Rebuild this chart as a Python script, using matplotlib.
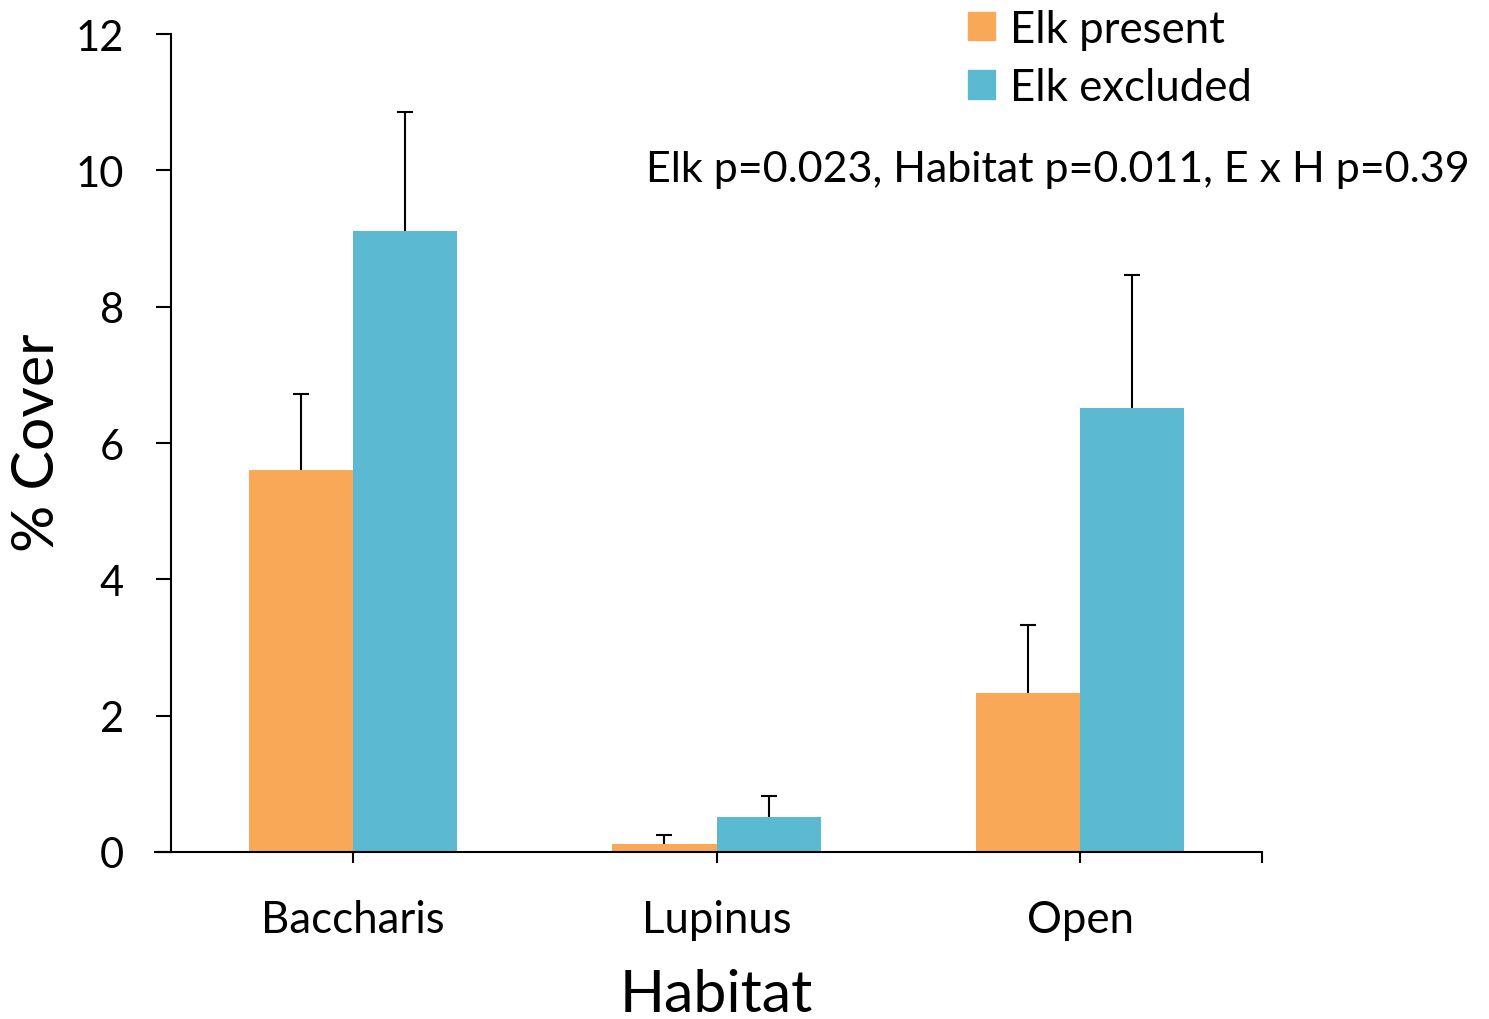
import matplotlib.pyplot as plt
import numpy as np
from matplotlib.lines import Line2D
from matplotlib.patches import Patch

plt.rcParams['font.family'] = ['Lato', 'DejaVu Sans']

# % cover por habitat, con y sin alces
habitats = ['Baccharis', 'Lupinus', 'Open']
elk_present = [5.60, 0.12, 2.33]
elk_present_se = [1.12, 0.13, 1.00]
elk_excluded = [9.11, 0.51, 6.51]
elk_excluded_se = [1.75, 0.31, 1.95]

color_present = '#F9A857'
color_excluded = '#5BB9D2'

fig = plt.figure(figsize=(14.89, 10.20), dpi=100)
ax = fig.add_axes([171 / 1489, 1 - 853 / 1020, (1262 - 171) / 1489, (853 - 35) / 1020])

x = np.arange(len(habitats))
w = 0.286

err_kw = dict(elinewidth=1.5, capthick=1.5, ecolor='black')
b1 = ax.bar(x - w / 2, elk_present, w, color=color_present, label='Elk present',
            yerr=[np.zeros(3), elk_present_se], capsize=6, error_kw=err_kw)
b2 = ax.bar(x + w / 2, elk_excluded, w, color=color_excluded, label='Elk excluded',
            yerr=[np.zeros(3), elk_excluded_se], capsize=6, error_kw=err_kw)
# solo la barra de error superior, sin tope abajo
for b in (b1, b2):
    b.errorbar.lines[1][0].set_visible(False)

ax.set_xlim(-0.5, 2.5)
ax.set_ylim(0, 12)
ax.set_yticks(range(0, 13, 2))
ax.set_xticks(x)
ax.set_xticklabels(habitats)
ax.set_xticks([2.5], minor=True)

for side in ['top', 'right']:
    ax.spines[side].set_visible(False)
for side in ['left', 'bottom']:
    ax.spines[side].set_linewidth(1.5)

ax.tick_params(axis='y', length=11, width=1.5, pad=23, labelsize=30)
ax.tick_params(axis='x', which='both', length=8, width=1.5, pad=26, labelsize=31.5)

# prolongar el eje x a la izquierda del eje y
ax.add_line(Line2D([-16 / 1091, 0], [0, 0], transform=ax.transAxes,
                   color='black', linewidth=1.5, clip_on=False))

ax.set_xlabel('Habitat', fontsize=42.5, labelpad=20)
fig.text(38 / 1489, 1 - 443 / 1020, '% Cover', fontsize=42.5, rotation=90,
         ha='center', va='center')

fig.text(1470 / 1489, 1 - 170 / 1020, 'Elk p=0.023, Habitat p=0.011, E x H p=0.39',
         fontsize=31, ha='right', va='center')

handles = [Patch(color=color_present), Patch(color=color_excluded)]
fig.legend(handles, ['Elk present', 'Elk excluded'], loc='upper left',
           bbox_to_anchor=(950 / 1489, 1 + 8 / 1020), frameon=False, fontsize=31.5,
           handlelength=0.62, handleheight=0.62, handletextpad=0.35, labelspacing=0.4,
           borderaxespad=0)

fig.savefig('out.png', dpi=100)
